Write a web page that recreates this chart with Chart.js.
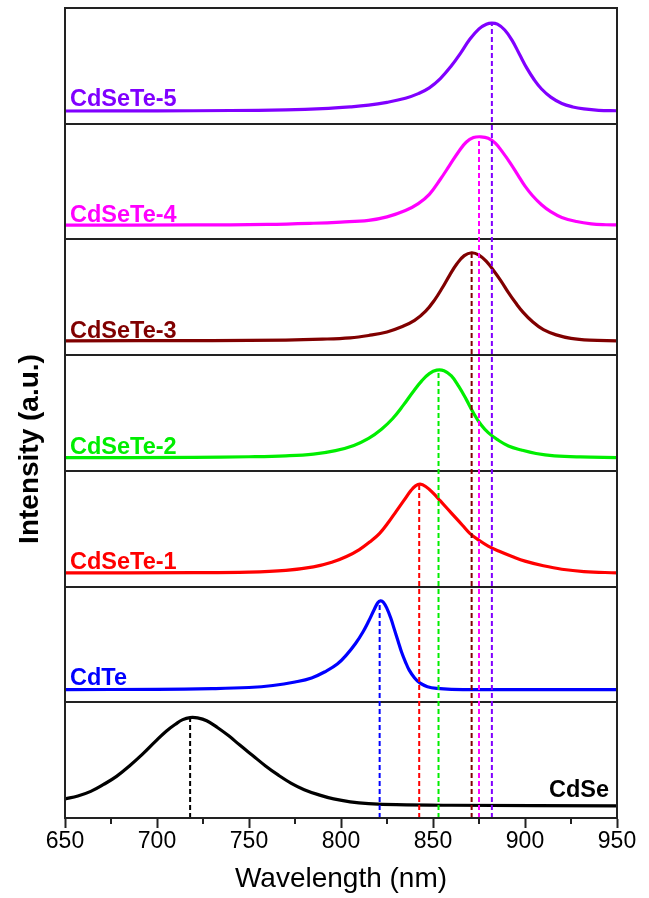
<!DOCTYPE html>
<html><head><meta charset="utf-8">
<script src="https://cdn.jsdelivr.net/npm/chart.js@4.4.0/dist/chart.umd.min.js"></script>
<style>html,body{margin:0;padding:0;background:#fff}</style>
</head><body>
<canvas id="c" width="649" height="898"></canvas>
<script>
// ---- data (normalized intensity within each panel) ----
const seriesNames = ["CdSe", "CdTe", "CdSeTe-1", "CdSeTe-2", "CdSeTe-3", "CdSeTe-4", "CdSeTe-5"];
const seriesColors = ["#000000", "#0000ff", "#ff0000", "#00ee00", "#800000", "#ff00ff", "#8000ff"];
const peakWavelengths = [718, 821, 842.5, 853, 871, 875, 882];

const cdseX = [650, 657, 664, 671, 678, 685, 692, 699, 705, 710, 714, 718, 722, 727, 733, 739, 745, 752, 759, 766, 773, 780, 788, 796, 805, 815, 830, 860, 950];
const cdseY = [0.165, 0.19, 0.23, 0.29, 0.36, 0.45, 0.55, 0.66, 0.75, 0.81, 0.85, 0.868, 0.865, 0.84, 0.78, 0.71, 0.63, 0.54, 0.45, 0.37, 0.30, 0.245, 0.20, 0.165, 0.14, 0.125, 0.115, 0.11, 0.105];

const cdteX = [650, 700, 730, 750, 763, 775, 784, 792, 798, 803, 808, 812, 815, 818, 820, 821.5, 823, 825, 827, 829, 831, 833, 835, 837, 840, 843, 847, 852, 860, 880, 950];
const cdteY = [0.11, 0.112, 0.118, 0.128, 0.145, 0.175, 0.21, 0.27, 0.33, 0.41, 0.51, 0.61, 0.70, 0.80, 0.86, 0.876, 0.865, 0.81, 0.73, 0.63, 0.53, 0.43, 0.35, 0.28, 0.21, 0.165, 0.135, 0.12, 0.112, 0.11, 0.11];

const cdsete1X = [650, 720, 750, 770, 785, 795, 803, 810, 816, 821, 826, 830, 834, 838, 840.5, 843, 846, 850, 854, 858, 862, 866, 870, 875, 880, 886, 893, 900, 910, 920, 932, 950];
const cdsete1Y = [0.118, 0.12, 0.125, 0.14, 0.17, 0.21, 0.26, 0.32, 0.39, 0.46, 0.56, 0.65, 0.74, 0.83, 0.87, 0.885, 0.865, 0.81, 0.74, 0.67, 0.60, 0.53, 0.46, 0.40, 0.35, 0.305, 0.26, 0.22, 0.18, 0.15, 0.13, 0.118];

const cdsete2X = [650, 720, 750, 770, 785, 797, 807, 815, 822, 828, 834, 839, 844, 848, 852, 856, 860, 864, 868, 872, 876, 880, 885, 891, 898, 906, 916, 930, 950];
const cdsete2Y = [0.114, 0.116, 0.122, 0.13, 0.145, 0.175, 0.22, 0.28, 0.36, 0.45, 0.57, 0.68, 0.78, 0.84, 0.87, 0.865, 0.82, 0.73, 0.62, 0.50, 0.40, 0.33, 0.27, 0.215, 0.18, 0.15, 0.13, 0.12, 0.115];

const cdsete3X = [650, 730, 770, 790, 805, 815, 825, 833, 840, 846, 851, 855, 859, 863, 867, 871, 875, 879, 883, 887, 891, 895, 899, 904, 910, 917, 925, 935, 950];
const cdsete3Y = [0.124, 0.126, 0.13, 0.138, 0.15, 0.17, 0.20, 0.245, 0.30, 0.38, 0.48, 0.58, 0.69, 0.79, 0.86, 0.885, 0.865, 0.81, 0.73, 0.64, 0.54, 0.45, 0.37, 0.29, 0.22, 0.175, 0.145, 0.13, 0.124];

const cdsete4X = [650, 720, 760, 785, 800, 815, 825, 835, 842, 848, 854, 859, 864, 868, 872, 876, 880, 884, 888, 892, 896, 900, 904, 909, 914, 920, 928, 936, 944, 950];
const cdsete4Y = [0.124, 0.125, 0.13, 0.14, 0.15, 0.165, 0.195, 0.25, 0.31, 0.39, 0.52, 0.64, 0.76, 0.84, 0.88, 0.887, 0.875, 0.83, 0.75, 0.66, 0.56, 0.46, 0.38, 0.30, 0.24, 0.19, 0.155, 0.135, 0.127, 0.125];

const cdsete5X = [650, 700, 740, 770, 790, 805, 815, 825, 835, 842, 848, 854, 860, 865, 870, 875, 879, 882, 885, 889, 893, 897, 901, 905, 909, 914, 920, 926, 932, 940, 950];
const cdsete5Y = [0.11, 0.111, 0.114, 0.12, 0.13, 0.145, 0.16, 0.185, 0.22, 0.26, 0.31, 0.39, 0.50, 0.61, 0.73, 0.82, 0.86, 0.87, 0.86, 0.81, 0.72, 0.60, 0.48, 0.38, 0.30, 0.23, 0.175, 0.145, 0.128, 0.116, 0.112];

const xTickValues = [650, 700, 750, 800, 850, 900, 950];

const allX = [cdseX, cdteX, cdsete1X, cdsete2X, cdsete3X, cdsete4X, cdsete5X];
const allY = [cdseY, cdteY, cdsete1Y, cdsete2Y, cdsete3Y, cdsete4Y, cdsete5Y];

const FONT = "'Liberation Sans', Arial, Helvetica, sans-serif";

// ---- build datasets: panel i occupies y in [i, i+1] ----
const datasets = [];
for (let i = 0; i < seriesNames.length; i++) {
  const ys = allY[i];
  let peakY = 0;
  for (let k = 0; k < ys.length; k++) if (ys[k] > peakY) peakY = ys[k];
  datasets.push({
    label: seriesNames[i] + " peak",
    data: [{x: peakWavelengths[i], y: 0}, {x: peakWavelengths[i], y: i + peakY - 0.01}],
    borderColor: seriesColors[i],
    borderWidth: 2,
    borderDash: [5, 3],
    pointRadius: 0,
    showLine: true,
    tension: 0
  });
}
for (let i = 0; i < seriesNames.length; i++) {
  const xs = allX[i], ys = allY[i];
  datasets.push({
    label: seriesNames[i],
    data: xs.map((x, k) => ({x: x, y: i + ys[k]})),
    borderColor: seriesColors[i],
    borderWidth: 3.2,
    pointRadius: 0,
    showLine: true,
    tension: 0.4
  });
}

const decorPlugin = {
  id: 'decor',
  afterDraw(chart) {
    const ctx = chart.ctx, a = chart.chartArea;
    const xs = chart.scales.x, ys = chart.scales.y;
    ctx.save();
    // frame
    ctx.strokeStyle = '#222';
    ctx.lineWidth = 2;
    ctx.strokeRect(a.left, a.top, a.right - a.left, a.bottom - a.top);
    // minor ticks
    ctx.beginPath();
    for (let v = 675; v < 950; v += 50) {
      const px = Math.round(xs.getPixelForValue(v));
      ctx.moveTo(px, a.bottom);
      ctx.lineTo(px, a.bottom + 6);
    }
    ctx.stroke();
    // panel labels
    ctx.font = "bold 23.5px " + FONT;
    ctx.textBaseline = 'alphabetic';
    for (let i = 0; i < seriesNames.length; i++) {
      ctx.fillStyle = seriesColors[i];
      if (i === 0) {
        ctx.textAlign = 'right';
        ctx.fillText(seriesNames[i], xs.getPixelForValue(950) - 8, ys.getPixelForValue(i + 0.18));
      } else {
        ctx.textAlign = 'left';
        ctx.fillText(seriesNames[i], xs.getPixelForValue(650) + 5, ys.getPixelForValue(i + 0.15));
      }
    }
    // y axis title
    ctx.translate(30, 449);
    ctx.rotate(-Math.PI / 2);
    ctx.fillStyle = '#000';
    ctx.textAlign = 'center';
    ctx.textBaseline = 'middle';
    ctx.font = "bold 28px " + FONT;
    ctx.fillText('Intensity (a.u.)', 0, 0);
    ctx.restore();
  }
};

new Chart(document.getElementById('c'), {
  type: 'scatter',
  data: { datasets: datasets },
  plugins: [decorPlugin],
  options: {
    responsive: false,
    animation: false,
    layout: { padding: { top: 8, right: 32, left: 0, bottom: 0 } },
    plugins: { legend: { display: false }, tooltip: { enabled: false } },
    scales: {
      x: {
        type: 'linear', position: 'bottom', min: 650, max: 950,
        afterBuildTicks(scale) { scale.ticks = xTickValues.map(v => ({value: v})); },
        afterFit(scale) { scale.height = 80; },
        ticks: { font: { family: FONT, size: 23 }, color: '#000', padding: 0, maxRotation: 0, autoSkip: false },
        grid: { drawOnChartArea: false, tickLength: 10, tickWidth: 2, tickColor: '#222' },
        border: { display: true, color: '#222', width: 2 },
        title: { display: true, text: 'Wavelength (nm)', color: '#000', font: { family: FONT, size: 28 }, padding: { top: 0, bottom: 2 } }
      },
      y: {
        type: 'linear', min: 0, max: 7,
        afterBuildTicks(scale) { const t = []; for (let v = 0; v <= 7; v++) t.push({value: v}); scale.ticks = t; },
        afterFit(scale) { scale.width = 65; },
        ticks: { display: false },
        grid: { color: '#222', lineWidth: 2, drawTicks: false },
        border: { display: true, color: '#222', width: 2 },
        title: { display: false }
      }
    }
  }
});
</script>
</body></html>
